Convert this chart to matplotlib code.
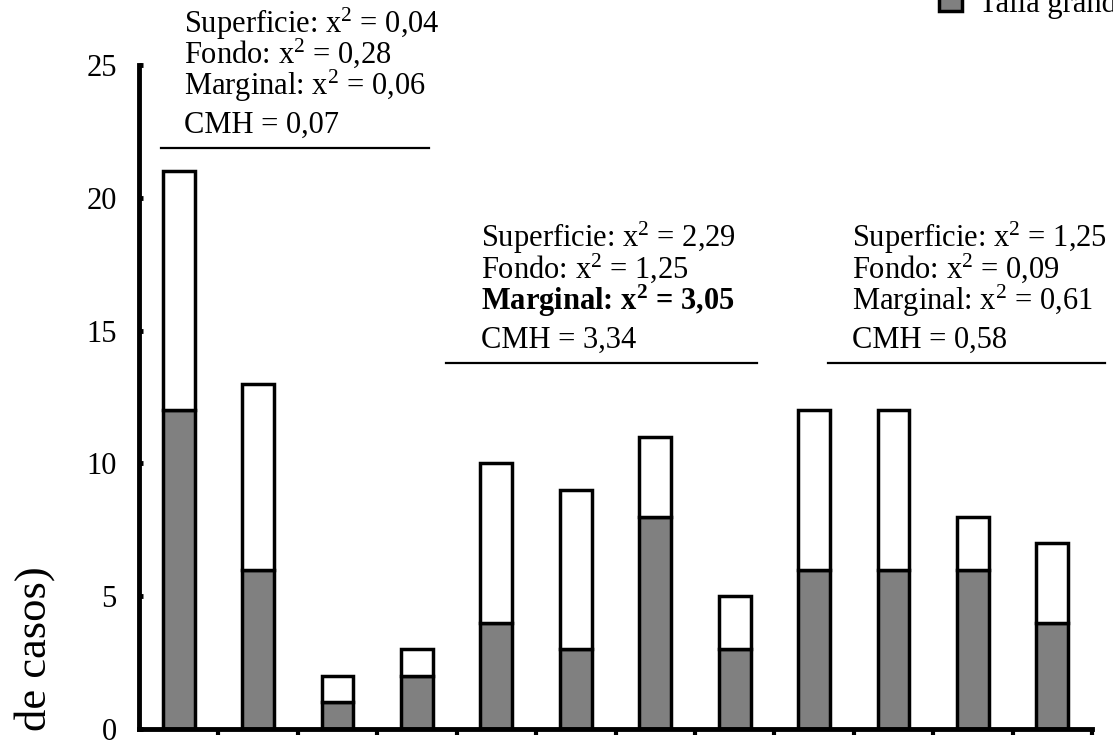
import matplotlib
matplotlib.use("Agg")
import matplotlib.pyplot as plt
import numpy as np

plt.rcParams['font.family'] = ['Liberation Serif', 'DejaVu Serif']
plt.rcParams['mathtext.fontset'] = 'custom'
plt.rcParams['mathtext.rm'] = 'Liberation Serif'
plt.rcParams['mathtext.it'] = 'Liberation Serif'
plt.rcParams['mathtext.bf'] = 'Liberation Serif:bold'

# ---- data ----
totales = [21, 13, 2, 3, 10, 9, 11, 5, 12, 12, 8, 7]
talla_grande = [12, 6, 1, 2, 4, 3, 8, 3, 6, 6, 6, 4]
yticks = [0, 5, 10, 15, 20, 25]

bloque1 = ["Superficie: x$^{2}$ = 0,04", "Fondo: x$^{2}$ = 0,28", "Marginal: x$^{2}$ = 0,06", "CMH = 0,07"]
bloque2 = ["Superficie: x$^{2}$ = 2,29", "Fondo: x$^{2}$ = 1,25", "Marginal: x$^{\\mathbf{2}}$ = 3,05", "CMH = 3,34"]
bloque3 = ["Superficie: x$^{2}$ = 1,25", "Fondo: x$^{2}$ = 0,09", "Marginal: x$^{2}$ = 0,61", "CMH = 0,58"]
negrita2 = [False, False, True, False]

ylabel = "de casos)"
leyenda = ["Talla grande"]

# ---- figure ----
W, H = 1113, 740
fig = plt.figure(figsize=(W / 100, H / 100), dpi=100)
ax = fig.add_axes([139 / W, 11 / H, (1092 - 139) / W, (729 - 65) / H])

x = np.arange(len(totales))
grande = np.array(talla_grande)
pequena = np.array(totales) - grande

b_gr = ax.bar(x, grande, width=0.4, color='#808080', edgecolor='black', linewidth=2.5, zorder=2)
b_pq = ax.bar(x, pequena, bottom=grande, width=0.4, color='white', edgecolor='black', linewidth=2.5, zorder=2)

ax.set_xlim(-0.5, len(totales) - 0.5)
ax.set_ylim(0, 25)
for s in ['top', 'right']:
    ax.spines[s].set_visible(False)
for s in ['left', 'bottom']:
    ax.spines[s].set_linewidth(3.5)

ax.set_yticks(yticks)
ax.set_yticklabels([str(v) for v in yticks])
ax.tick_params(axis='y', direction='in', length=3, width=3.5, pad=16, labelsize=22)
ax.set_xticks(x + 0.5)
ax.set_xticklabels([])
ax.tick_params(axis='x', direction='out', length=4.5, width=3)

# annotation blocks
def bloque(lines, x0, ys, yline, xl0, xl1, bold=None):
    for i, (t, yy) in enumerate(zip(lines, ys)):
        w = 'bold' if (bold and bold[i]) else 'normal'
        ax.text(x0, yy, t, fontsize=22, va='baseline', ha='left', fontweight=w, clip_on=False)
    ax.plot([xl0, xl1], [yline, yline], color='black', lw=1.6, clip_on=False)

bloque(bloque1, 0.067, [26.20, 25.08, 23.87, 22.44], 21.87, -0.223, 3.156)
bloque(bloque2, 3.811, [18.15, 16.98, 15.78, 14.34], 13.78, 3.37, 7.28, negrita2)
bloque(bloque3, 8.475, [18.15, 16.98, 15.78, 14.34], 13.78, 8.17, 11.66)

fig.text(35 / W, (H - 731) / H, ylabel, rotation=90, ha='center', va='bottom', fontsize=32)

leg = fig.legend([b_gr], leyenda, loc='lower left', bbox_to_anchor=(939 / W, (H - 19) / H),
                 frameon=False, fontsize=22, handlelength=0.75, handleheight=0.65,
                 handletextpad=0.55, borderpad=0, borderaxespad=0)

fig.savefig("out.png", dpi=100)
